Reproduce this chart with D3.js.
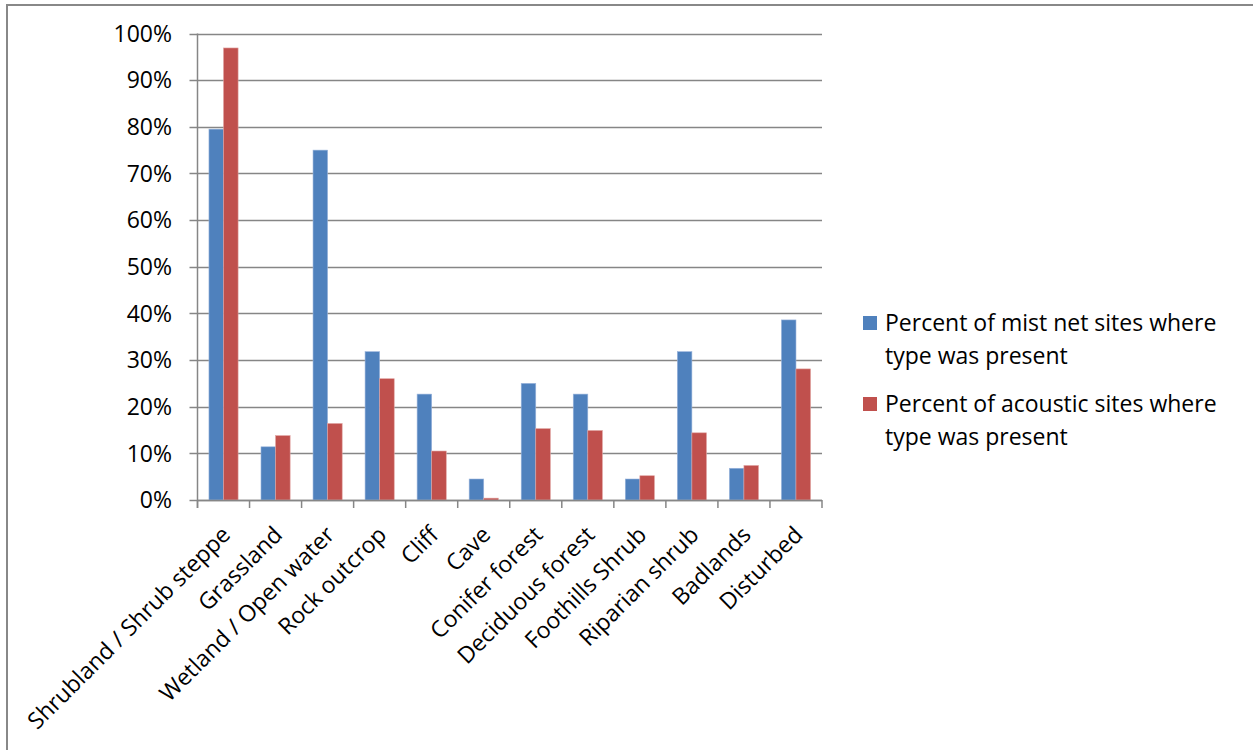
<!DOCTYPE html>
<html><head><meta charset="utf-8">
<script src="https://cdn.jsdelivr.net/npm/d3@7"></script>
<style>body{margin:0;background:#fff;} svg{display:block;}</style>
</head><body>
<svg id="chart" width="1253" height="750"></svg>
<script>
const categories = ["Shrubland / Shrub steppe","Grassland","Wetland / Open water","Rock outcrop","Cliff","Cave","Conifer forest","Deciduous forest","Foothills Shrub","Riparian shrub","Badlands","Disturbed"];
const mistNet = [0.795, 0.114, 0.750, 0.318, 0.227, 0.045, 0.250, 0.227, 0.045, 0.318, 0.068, 0.386];
const acoustic = [0.969, 0.138, 0.164, 0.260, 0.105, 0.004, 0.153, 0.149, 0.052, 0.144, 0.074, 0.281];
const seriesNames = ["Percent of mist net sites where type was present","Percent of acoustic sites where type was present"];
const legendLines = [["Percent of mist net sites where","type was present"],["Percent of acoustic sites where","type was present"]];
const seriesColors = ["#4F81BD","#C0504D"];
const yTicks = [0,0.1,0.2,0.3,0.4,0.5,0.6,0.7,0.8,0.9,1.0];

(function(){
const svg = d3.select("#chart");
const font = "'Open Sans', 'Liberation Sans', sans-serif";
const fs = 23;
const pLeft = 197.5, pRight = 822, pTop = 33.5, pBottom = 500;

// outer border
svg.append("path").attr("d","M7,760 L7,5 L1260,5").attr("fill","none").attr("stroke","#888").attr("stroke-width",2);

const x = d3.scaleBand().domain(categories).range([pLeft,pRight]).paddingInner(0.44).paddingOuter(0.22);
const x1 = d3.scaleBand().domain([0,1]).range([0,x.bandwidth()]);
const y = d3.scaleLinear().domain([0,1]).range([pBottom,pTop]);

// gridlines
svg.append("g").selectAll("line").data(yTicks).join("line")
  .attr("x1",pLeft-8).attr("x2",pRight).attr("y1",d=>Math.round(y(d))+0.5).attr("y2",d=>Math.round(y(d))+0.5)
  .attr("stroke","#868686").attr("stroke-width",1.5);

// y labels
svg.append("g").selectAll("text").data(yTicks).join("text")
  .attr("x",172).attr("y",d=>y(d)).attr("dy","0.36em").attr("text-anchor","end")
  .attr("font-family",font).attr("font-size",fs).attr("fill","#000")
  .text(d=>d3.format(".0%")(d));

// bars
const data = categories.map((c,i)=>({c, v:[mistNet[i],acoustic[i]]}));
const g = svg.append("g");
data.forEach(d=>{
  d.v.forEach((v,s)=>{
    g.append("rect").attr("x",x(d.c)+x1(s)).attr("y",y(v)).attr("width",x1.bandwidth()).attr("height",y(0)-y(v))
      .attr("fill",seriesColors[s]).attr("stroke",s===0?"#9bb5dc":"#e0a3a1").attr("stroke-width",0.6);
  });
});

// axes lines
svg.append("line").attr("x1",pLeft).attr("x2",pLeft).attr("y1",pTop).attr("y2",pBottom+8).attr("stroke","#868686").attr("stroke-width",1.5);
svg.append("line").attr("x1",pLeft).attr("x2",pRight).attr("y1",pBottom+0.5).attr("y2",pBottom+0.5).attr("stroke","#868686").attr("stroke-width",1.5);
const step = (pRight-pLeft)/categories.length;
svg.append("g").selectAll("line").data(d3.range(categories.length+1)).join("line")
  .attr("x1",i=>pLeft+i*step).attr("x2",i=>pLeft+i*step).attr("y1",pBottom).attr("y2",pBottom+8)
  .attr("stroke","#868686").attr("stroke-width",1.5);

// category labels
svg.append("g").selectAll("text").data(categories).join("text")
  .attr("transform",d=>`translate(${x(d)+x.bandwidth()/2-4},${pBottom+24}) rotate(-45)`)
  .attr("text-anchor","end").attr("dy","0.75em")
  .attr("font-family",font).attr("font-size",fs).attr("fill","#000")
  .text(d=>d);

// legend
const lg = svg.append("g");
seriesNames.forEach((n,s)=>{
  const by = 331 + s*81;
  lg.append("rect").attr("x",863).attr("y",by-15).attr("width",14).attr("height",14).attr("fill",seriesColors[s]);
  legendLines[s].forEach((t,k)=>{
    lg.append("text").attr("x",885).attr("y",by+k*33).attr("font-family",font).attr("font-size",fs).attr("fill","#000").text(t);
  });
});
})();
</script>
</body></html>
